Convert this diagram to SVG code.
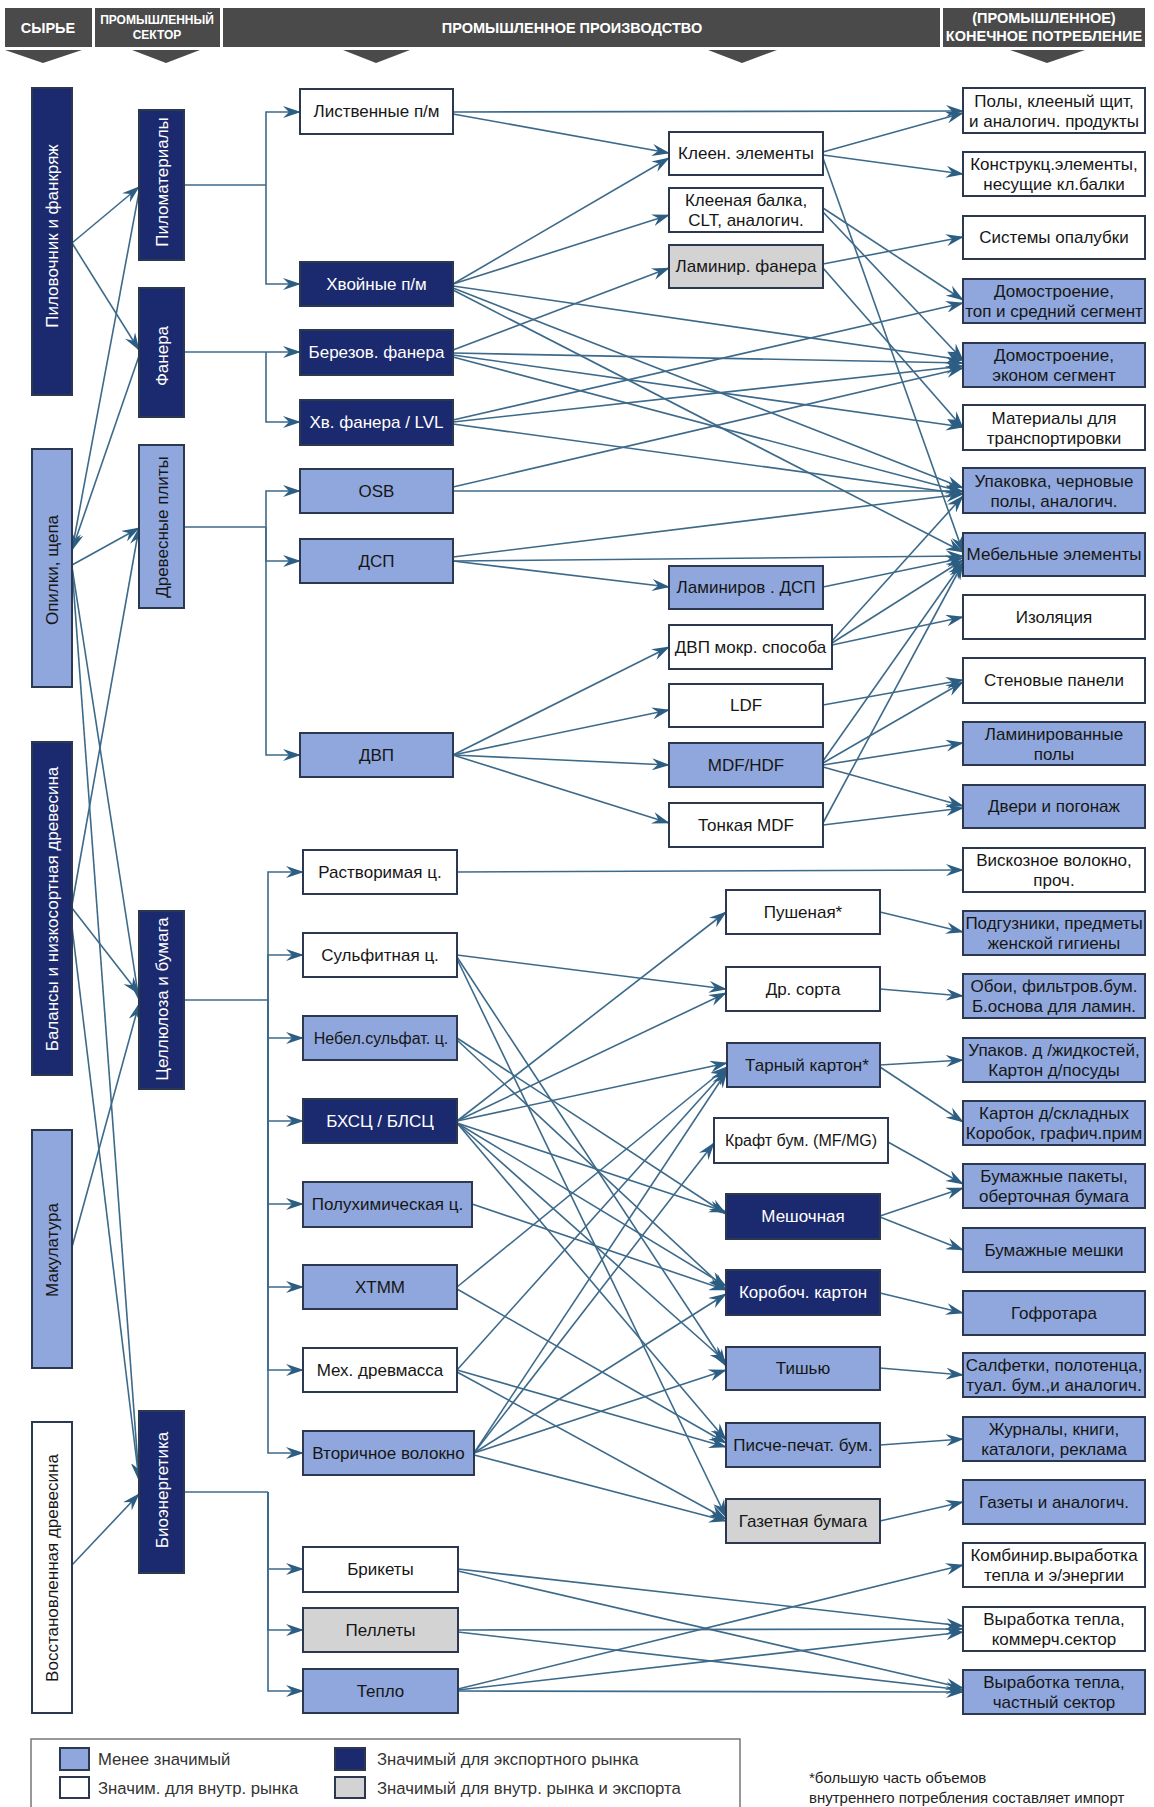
<svg xmlns="http://www.w3.org/2000/svg" width="1154" height="1807" viewBox="0 0 1154 1807">
<defs>
<marker id="a" viewBox="0 0 18 12" markerWidth="18" markerHeight="12" refX="17" refY="6" orient="auto" markerUnits="userSpaceOnUse"><path d="M0,0 L18,6 L0,12 L6,6 Z" fill="#2c5d82"/></marker>
</defs>
<style>
.hd{fill:#4a4a4a}
.ht{fill:#fff;font-family:"Liberation Sans",Arial,sans-serif;font-weight:bold;text-anchor:middle;font-size:14.5px}
.hs{font-size:12px}
rect.n{fill:#1b2a6e;stroke:#2b3850;stroke-width:2}
rect.l{fill:#8fa7dc;stroke:#2b3850;stroke-width:2}
rect.w{fill:#ffffff;stroke:#2b3850;stroke-width:2}
rect.g{fill:#d3d3d3;stroke:#2b3850;stroke-width:2}
text{font-family:"Liberation Sans",Arial,sans-serif;font-size:17px;fill:#161616;text-anchor:middle}
text.tw{fill:#ffffff}
text.s{font-size:16px}
#connectors line,#connectors polyline{stroke:#3d6a8a;stroke-width:1.6;fill:none}
.ar{marker-end:url(#a)}
text.lg{text-anchor:start;font-size:16.7px;fill:#333}
text.fn{text-anchor:start;font-size:15px;fill:#222}
</style>
<rect width="1154" height="1807" fill="#ffffff"/>
<g id="header">
<rect class="hd" x="5" y="8" width="87" height="39"/>
<rect class="hd" x="95" y="8" width="125" height="39"/>
<rect class="hd" x="223" y="8" width="717" height="39"/>
<rect class="hd" x="943" y="8" width="202" height="39"/>
<text class="ht" x="48" y="33">СЫРЬЕ</text>
<text class="ht hs" x="157" y="24">ПРОМЫШЛЕННЫЙ</text>
<text class="ht hs" x="157" y="39">СЕКТОР</text>
<text class="ht" x="572" y="33">ПРОМЫШЛЕННОЕ ПРОИЗВОДСТВО</text>
<text class="ht" x="1044" y="23">(ПРОМЫШЛЕННОЕ)</text>
<text class="ht" x="1044" y="41">КОНЕЧНОЕ ПОТРЕБЛЕНИЕ</text>
<polygon class="hd" points="5,50 82,50 43,63"/>
<polygon class="hd" points="132,50 200,50 166,63"/>
<polygon class="hd" points="343,50 410,50 376,63"/>
<polygon class="hd" points="708,50 777,50 742,63"/>
<polygon class="hd" points="1010,50 1085,50 1047,63"/>
</g>
<g id="connectors">
<polyline points="184,185 266,185"/>
<polyline class="ar" points="266,185 266,112 300,112"/>
<polyline class="ar" points="266,185 266,284 300,284"/>
<polyline points="184,352 266,352"/>
<polyline class="ar" points="266,352 300,352"/>
<polyline class="ar" points="266,352 266,422 300,422"/>
<polyline points="184,527 266,527"/>
<polyline class="ar" points="266,527 266,491 300,491"/>
<polyline class="ar" points="266,527 266,561 300,561"/>
<polyline class="ar" points="266,527 266,755 300,755"/>
<polyline points="184,1000 268,1000"/>
<polyline class="ar" points="268,1000 268,872 303,872"/>
<polyline class="ar" points="268,1000 268,955 303,955"/>
<polyline class="ar" points="268,1000 268,1038 303,1038"/>
<polyline class="ar" points="268,1000 268,1121 303,1121"/>
<polyline class="ar" points="268,1000 268,1204 303,1204"/>
<polyline class="ar" points="268,1000 268,1287 303,1287"/>
<polyline class="ar" points="268,1000 268,1370 303,1370"/>
<polyline class="ar" points="268,1000 268,1453 303,1453"/>
<polyline points="184,1492 268,1492"/>
<polyline class="ar" points="268,1492 268,1569 303,1569"/>
<polyline class="ar" points="268,1492 268,1630 303,1630"/>
<polyline class="ar" points="268,1492 268,1691 303,1691"/>
<line class="ar" x1="72" y1="243" x2="139" y2="187"/>
<line class="ar" x1="72" y1="243" x2="139" y2="350"/>
<line class="ar" x1="139" y1="192" x2="72" y2="550"/>
<line class="ar" x1="139" y1="356" x2="72" y2="550"/>
<line class="ar" x1="72" y1="565" x2="139" y2="528"/>
<line class="ar" x1="72" y1="905" x2="139" y2="528"/>
<line class="ar" x1="72" y1="567" x2="139" y2="1000"/>
<line class="ar" x1="72" y1="567" x2="139" y2="1480"/>
<line class="ar" x1="72" y1="908" x2="139" y2="994"/>
<line class="ar" x1="72" y1="927" x2="139" y2="1480"/>
<line class="ar" x1="72" y1="1247" x2="139" y2="1004"/>
<line class="ar" x1="72" y1="1565" x2="139" y2="1494"/>
<line class="ar" x1="453" y1="112" x2="963" y2="111"/>
<line class="ar" x1="453" y1="114" x2="669" y2="153"/>
<line class="ar" x1="453" y1="284" x2="669" y2="158"/>
<line class="ar" x1="453" y1="284" x2="669" y2="215"/>
<line class="ar" x1="453" y1="286" x2="963" y2="360"/>
<line class="ar" x1="453" y1="288" x2="963" y2="488"/>
<line class="ar" x1="453" y1="290" x2="963" y2="552"/>
<line class="ar" x1="453" y1="350" x2="669" y2="268"/>
<line class="ar" x1="453" y1="353" x2="963" y2="363"/>
<line class="ar" x1="453" y1="355" x2="963" y2="427"/>
<line class="ar" x1="453" y1="357" x2="963" y2="492"/>
<line class="ar" x1="453" y1="420" x2="963" y2="303"/>
<line class="ar" x1="453" y1="422" x2="963" y2="366"/>
<line class="ar" x1="453" y1="424" x2="963" y2="494"/>
<line class="ar" x1="823" y1="152" x2="963" y2="113"/>
<line class="ar" x1="823" y1="155" x2="963" y2="174"/>
<line class="ar" x1="823" y1="158" x2="963" y2="552"/>
<line class="ar" x1="823" y1="208" x2="963" y2="300"/>
<line class="ar" x1="823" y1="212" x2="963" y2="360"/>
<line class="ar" x1="823" y1="264" x2="963" y2="237"/>
<line class="ar" x1="823" y1="268" x2="963" y2="428"/>
<line class="ar" x1="453" y1="487" x2="963" y2="368"/>
<line class="ar" x1="453" y1="491" x2="963" y2="491"/>
<line class="ar" x1="453" y1="557" x2="963" y2="494"/>
<line class="ar" x1="453" y1="561" x2="963" y2="556"/>
<line class="ar" x1="453" y1="561" x2="669" y2="587"/>
<line class="ar" x1="823" y1="587" x2="963" y2="558"/>
<line class="ar" x1="453" y1="755" x2="669" y2="647"/>
<line class="ar" x1="453" y1="755" x2="669" y2="710"/>
<line class="ar" x1="453" y1="755" x2="669" y2="765"/>
<line class="ar" x1="453" y1="755" x2="669" y2="823"/>
<line class="ar" x1="832" y1="645" x2="963" y2="617"/>
<line class="ar" x1="832" y1="643" x2="963" y2="560"/>
<line class="ar" x1="832" y1="641" x2="963" y2="496"/>
<line class="ar" x1="823" y1="705" x2="963" y2="680"/>
<line class="ar" x1="823" y1="763" x2="963" y2="682"/>
<line class="ar" x1="823" y1="765" x2="963" y2="743"/>
<line class="ar" x1="823" y1="767" x2="963" y2="806"/>
<line class="ar" x1="823" y1="761" x2="963" y2="562"/>
<line class="ar" x1="823" y1="825" x2="963" y2="808"/>
<line class="ar" x1="823" y1="823" x2="963" y2="563"/>
<line class="ar" x1="457" y1="872" x2="963" y2="870"/>
<line class="ar" x1="457" y1="955" x2="726" y2="989"/>
<line class="ar" x1="457" y1="957" x2="726" y2="1366"/>
<line class="ar" x1="457" y1="959" x2="726" y2="1517"/>
<line class="ar" x1="457" y1="1038" x2="726" y2="1214"/>
<line class="ar" x1="457" y1="1040" x2="726" y2="1290"/>
<line class="ar" x1="457" y1="1121" x2="726" y2="912"/>
<line class="ar" x1="457" y1="1121" x2="726" y2="993"/>
<line class="ar" x1="457" y1="1121" x2="727" y2="1063"/>
<line class="ar" x1="457" y1="1123" x2="726" y2="1212"/>
<line class="ar" x1="457" y1="1123" x2="726" y2="1286"/>
<line class="ar" x1="457" y1="1123" x2="726" y2="1362"/>
<line class="ar" x1="457" y1="1123" x2="726" y2="1440"/>
<line class="ar" x1="472" y1="1204" x2="726" y2="1290"/>
<line class="ar" x1="457" y1="1287" x2="727" y2="1067"/>
<line class="ar" x1="457" y1="1289" x2="726" y2="1443"/>
<line class="ar" x1="457" y1="1370" x2="727" y2="1069"/>
<line class="ar" x1="457" y1="1370" x2="726" y2="1447"/>
<line class="ar" x1="457" y1="1372" x2="726" y2="1519"/>
<line class="ar" x1="474" y1="1453" x2="727" y2="1071"/>
<line class="ar" x1="474" y1="1453" x2="714" y2="1143"/>
<line class="ar" x1="474" y1="1453" x2="726" y2="1294"/>
<line class="ar" x1="474" y1="1453" x2="726" y2="1370"/>
<line class="ar" x1="474" y1="1455" x2="726" y2="1521"/>
<line class="ar" x1="880" y1="912" x2="963" y2="932"/>
<line class="ar" x1="880" y1="989" x2="963" y2="996"/>
<line class="ar" x1="880" y1="1065" x2="963" y2="1060"/>
<line class="ar" x1="880" y1="1067" x2="963" y2="1122"/>
<line class="ar" x1="888" y1="1142" x2="963" y2="1184"/>
<line class="ar" x1="880" y1="1216" x2="963" y2="1188"/>
<line class="ar" x1="880" y1="1217" x2="963" y2="1250"/>
<line class="ar" x1="880" y1="1293" x2="963" y2="1313"/>
<line class="ar" x1="880" y1="1368" x2="963" y2="1375"/>
<line class="ar" x1="880" y1="1445" x2="963" y2="1439"/>
<line class="ar" x1="880" y1="1521" x2="963" y2="1502"/>
<line class="ar" x1="458" y1="1569" x2="963" y2="1626"/>
<line class="ar" x1="458" y1="1571" x2="963" y2="1688"/>
<line class="ar" x1="458" y1="1630" x2="963" y2="1629"/>
<line class="ar" x1="458" y1="1632" x2="963" y2="1690"/>
<line class="ar" x1="458" y1="1689" x2="963" y2="1565"/>
<line class="ar" x1="458" y1="1690" x2="963" y2="1632"/>
<line class="ar" x1="458" y1="1691" x2="963" y2="1692"/>
</g>
<g id="r1"><rect class="n" x="32" y="88" width="40" height="307"/><text class="tw" transform="translate(52,236) rotate(-90)" y="6">Пиловочник  и фанкряж</text></g>
<g id="r2"><rect class="l" x="32" y="449" width="40" height="238"/><text transform="translate(52,570) rotate(-90)" y="6">Опилки, щепа</text></g>
<g id="r3"><rect class="n" x="32" y="742" width="40" height="333"/><text class="tw" transform="translate(52,909) rotate(-90)" y="6">Балансы и низкосортная древесина</text></g>
<g id="r4"><rect class="l" x="32" y="1130" width="40" height="238"/><text transform="translate(52,1250) rotate(-90)" y="6">Макулатура</text></g>
<g id="r5"><rect class="w" x="32" y="1422" width="40" height="291"/><text transform="translate(52,1568) rotate(-90)" y="6">Восстановленная древесина</text></g>
<g id="s1"><rect class="n" x="139" y="110" width="45" height="150"/><text class="tw" transform="translate(161.5,182) rotate(-90)" y="6">Пиломатериалы</text></g>
<g id="s2"><rect class="n" x="139" y="288" width="45" height="129"/><text class="tw" transform="translate(161.5,356) rotate(-90)" y="6">Фанера</text></g>
<g id="s3"><rect class="l" x="139" y="445" width="45" height="163"/><text transform="translate(161.5,527) rotate(-90)" y="6">Древесные плиты</text></g>
<g id="s4"><rect class="n" x="139" y="911" width="45" height="178"/><text class="tw" transform="translate(161.5,999) rotate(-90)" y="6">Целлюлоза и бумага</text></g>
<g id="s5"><rect class="n" x="139" y="1411" width="45" height="162"/><text class="tw" transform="translate(161.5,1490) rotate(-90)" y="6">Биоэнергетика</text></g>
<g id="p1"><rect class="w" x="300" y="89" width="153" height="45"/><text x="376.5" y="117">Лиственные п/м</text></g>
<g id="p2"><rect class="n" x="300" y="262" width="153" height="44"/><text class="tw" x="376.5" y="290">Хвойные п/м</text></g>
<g id="p3"><rect class="n" x="300" y="330" width="153" height="45"/><text class="tw" x="376.5" y="358">Березов. фанера</text></g>
<g id="p4"><rect class="n" x="300" y="400" width="153" height="45"/><text class="tw" x="376.5" y="428">Хв. фанера / LVL</text></g>
<g id="p5"><rect class="l" x="300" y="469" width="153" height="44"/><text x="376.5" y="497">OSB</text></g>
<g id="p6"><rect class="l" x="300" y="539" width="153" height="44"/><text x="376.5" y="567">ДСП</text></g>
<g id="p7"><rect class="l" x="300" y="733" width="153" height="44"/><text x="376.5" y="761">ДВП</text></g>
<g id="q1"><rect class="w" x="303" y="850" width="154" height="44"/><text x="380" y="878">Растворимая ц.</text></g>
<g id="q2"><rect class="w" x="303" y="933" width="154" height="44"/><text x="380" y="961">Сульфитная ц.</text></g>
<g id="q3"><rect class="l" x="303" y="1016" width="154" height="44"/><text class="s" x="381" y="1044">Небел.сульфат. ц.</text></g>
<g id="q4"><rect class="n" x="303" y="1099" width="154" height="44"/><text class="tw" x="380" y="1127">БХСЦ / БЛСЦ</text></g>
<g id="q5"><rect class="l" x="303" y="1182" width="169" height="45"/><text x="387.5" y="1210">Полухимическая ц.</text></g>
<g id="q6"><rect class="l" x="303" y="1265" width="154" height="44"/><text x="380" y="1293">ХТММ</text></g>
<g id="q7"><rect class="w" x="303" y="1348" width="154" height="44"/><text x="380" y="1376">Мех. древмасса</text></g>
<g id="q8"><rect class="l" x="303" y="1431" width="171" height="44"/><text x="388.5" y="1459">Вторичное волокно</text></g>
<g id="b1"><rect class="w" x="303" y="1547" width="155" height="45"/><text x="380.5" y="1575">Брикеты</text></g>
<g id="b2"><rect class="g" x="303" y="1608" width="155" height="44"/><text x="380.5" y="1636">Пеллеты</text></g>
<g id="b3"><rect class="l" x="303" y="1669" width="155" height="44"/><text x="380.5" y="1697">Тепло</text></g>
<g id="c1"><rect class="w" x="669" y="132" width="154" height="43"/><text x="746" y="159">Клеен. элементы</text></g>
<g id="c2"><rect class="w" x="669" y="188" width="154" height="44"/><text x="746" y="206">Клееная балка,</text><text x="746" y="226">CLT, аналогич.</text></g>
<g id="c3"><rect class="g" x="669" y="245" width="154" height="43"/><text x="746" y="272">Ламинир. фанера</text></g>
<g id="c4"><rect class="l" x="669" y="566" width="154" height="43"/><text x="746" y="593">Ламиниров . ДСП</text></g>
<g id="c5"><rect class="w" x="669" y="625" width="163" height="44"/><text x="750.5" y="653">ДВП мокр. способа</text></g>
<g id="c6"><rect class="w" x="669" y="684" width="154" height="43"/><text x="746" y="711">LDF</text></g>
<g id="c7"><rect class="l" x="669" y="743" width="154" height="44"/><text x="746" y="771">MDF/HDF</text></g>
<g id="c8"><rect class="w" x="669" y="803" width="154" height="44"/><text x="746" y="831">Тонкая MDF</text></g>
<g id="d1"><rect class="w" x="726" y="890" width="154" height="44"/><text x="803" y="918">Пушеная*</text></g>
<g id="d2"><rect class="w" x="726" y="967" width="154" height="44"/><text x="803" y="995">Др. сорта</text></g>
<g id="d3"><rect class="l" x="727" y="1043" width="153" height="44"/><text x="807" y="1071">Тарный картон*</text></g>
<g id="d4"><rect class="w" x="714" y="1118" width="174" height="45"/><text class="s" x="801" y="1146">Крафт бум. (MF/MG)</text></g>
<g id="d5"><rect class="n" x="726" y="1194" width="154" height="45"/><text class="tw" x="803" y="1222">Мешочная</text></g>
<g id="d6"><rect class="n" x="726" y="1270" width="154" height="45"/><text class="tw" x="803" y="1298">Коробоч. картон</text></g>
<g id="d7"><rect class="l" x="726" y="1347" width="154" height="43"/><text x="803" y="1374">Тишью</text></g>
<g id="d8"><rect class="l" x="726" y="1423" width="154" height="44"/><text x="803" y="1451">Писче-печат. бум.</text></g>
<g id="d9"><rect class="g" x="726" y="1499" width="154" height="44"/><text x="803" y="1527">Газетная бумага</text></g>
<g id="e1"><rect class="w" x="963" y="88" width="182" height="45"/><text x="1054" y="107">Полы, клееный щит,</text><text x="1054" y="127">и аналогич. продукты</text></g>
<g id="e2"><rect class="w" x="963" y="152" width="182" height="44"/><text x="1054" y="170">Конструкц.элементы,</text><text x="1054" y="190">несущие кл.балки</text></g>
<g id="e3"><rect class="w" x="963" y="216" width="182" height="43"/><text x="1054" y="243">Системы опалубки</text></g>
<g id="e4"><rect class="l" x="963" y="279" width="182" height="44"/><text x="1054" y="297">Домостроение,</text><text x="1054" y="317">топ и средний сегмент</text></g>
<g id="e5"><rect class="l" x="963" y="343" width="182" height="44"/><text x="1054" y="361">Домостроение,</text><text x="1054" y="381">эконом сегмент</text></g>
<g id="e6"><rect class="w" x="963" y="405" width="182" height="45"/><text x="1054" y="424">Материалы для</text><text x="1054" y="444">транспортировки</text></g>
<g id="e7"><rect class="l" x="963" y="468" width="182" height="45"/><text x="1054" y="487">Упаковка, черновые</text><text x="1054" y="507">полы, аналогич.</text></g>
<g id="e8"><rect class="l" x="963" y="533" width="182" height="43"/><text x="1054" y="560">Мебельные элементы</text></g>
<g id="e9"><rect class="w" x="963" y="595" width="182" height="44"/><text x="1054" y="623">Изоляция</text></g>
<g id="e10"><rect class="w" x="963" y="658" width="182" height="45"/><text x="1054" y="686">Стеновые панели</text></g>
<g id="e11"><rect class="l" x="963" y="722" width="182" height="43"/><text x="1054" y="740">Ламинированные</text><text x="1054" y="760">полы</text></g>
<g id="e12"><rect class="l" x="963" y="785" width="182" height="43"/><text x="1054" y="812">Двери и погонаж</text></g>
<g id="e13"><rect class="w" x="963" y="848" width="182" height="44"/><text x="1054" y="866">Вискозное волокно,</text><text x="1054" y="886">проч.</text></g>
<g id="e14"><rect class="l" x="963" y="911" width="182" height="44"/><text x="1054" y="929">Подгузники, предметы</text><text x="1054" y="949">женской гигиены</text></g>
<g id="e15"><rect class="l" x="963" y="974" width="182" height="44"/><text x="1054" y="992">Обои, фильтров.бум.</text><text x="1054" y="1012">Б.основа для ламин.</text></g>
<g id="e16"><rect class="l" x="963" y="1038" width="182" height="44"/><text x="1054" y="1056">Упаков. д /жидкостей,</text><text x="1054" y="1076">Картон д/посуды</text></g>
<g id="e17"><rect class="l" x="963" y="1101" width="182" height="44"/><text x="1054" y="1119">Картон д/складных</text><text x="1054" y="1139">Коробок, графич.прим</text></g>
<g id="e18"><rect class="l" x="963" y="1164" width="182" height="44"/><text x="1054" y="1182">Бумажные пакеты,</text><text x="1054" y="1202">оберточная бумага</text></g>
<g id="e19"><rect class="l" x="963" y="1228" width="182" height="44"/><text x="1054" y="1256">Бумажные мешки</text></g>
<g id="e20"><rect class="l" x="963" y="1291" width="182" height="44"/><text x="1054" y="1319">Гофротара</text></g>
<g id="e21"><rect class="l" x="963" y="1353" width="182" height="44"/><text x="1054" y="1371">Салфетки, полотенца,</text><text x="1054" y="1391">туал. бум.,и аналогич.</text></g>
<g id="e22"><rect class="l" x="963" y="1417" width="182" height="44"/><text x="1054" y="1435">Журналы, книги,</text><text x="1054" y="1455">каталоги, реклама</text></g>
<g id="e23"><rect class="l" x="963" y="1480" width="182" height="44"/><text x="1054" y="1508">Газеты и аналогич.</text></g>
<g id="e24"><rect class="w" x="963" y="1543" width="182" height="44"/><text x="1054" y="1561">Комбинир.выработка</text><text x="1054" y="1581">тепла и э/энергии</text></g>
<g id="e25"><rect class="w" x="963" y="1607" width="182" height="44"/><text x="1054" y="1625">Выработка тепла,</text><text x="1054" y="1645">коммерч.сектор</text></g>
<g id="e26"><rect class="l" x="963" y="1670" width="182" height="44"/><text x="1054" y="1688">Выработка тепла,</text><text x="1054" y="1708">частный сектор</text></g>
<g id="legend">
<path d="M31,1812 V1739 H740 V1812" fill="none" stroke="#777" stroke-width="1.5"/>
<rect class="l" x="60" y="1748" width="29" height="22"/>
<rect class="w" x="60" y="1777" width="29" height="21"/>
<rect class="n" x="335" y="1748" width="30" height="22"/>
<rect class="g" x="335" y="1777" width="30" height="21"/>
<text class="lg" x="98" y="1765">Менее значимый</text>
<text class="lg" x="98" y="1794">Значим. для внутр. рынка</text>
<text class="lg" x="377" y="1765">Значимый для экспортного рынка</text>
<text class="lg" x="377" y="1794">Значимый для внутр. рынка и  экспорта</text>
</g>
<g id="note">
<text class="fn" x="809" y="1783">*большую часть объемов</text>
<text class="fn" x="809" y="1803">внутреннего потребления составляет импорт</text>
</g>
</svg>
